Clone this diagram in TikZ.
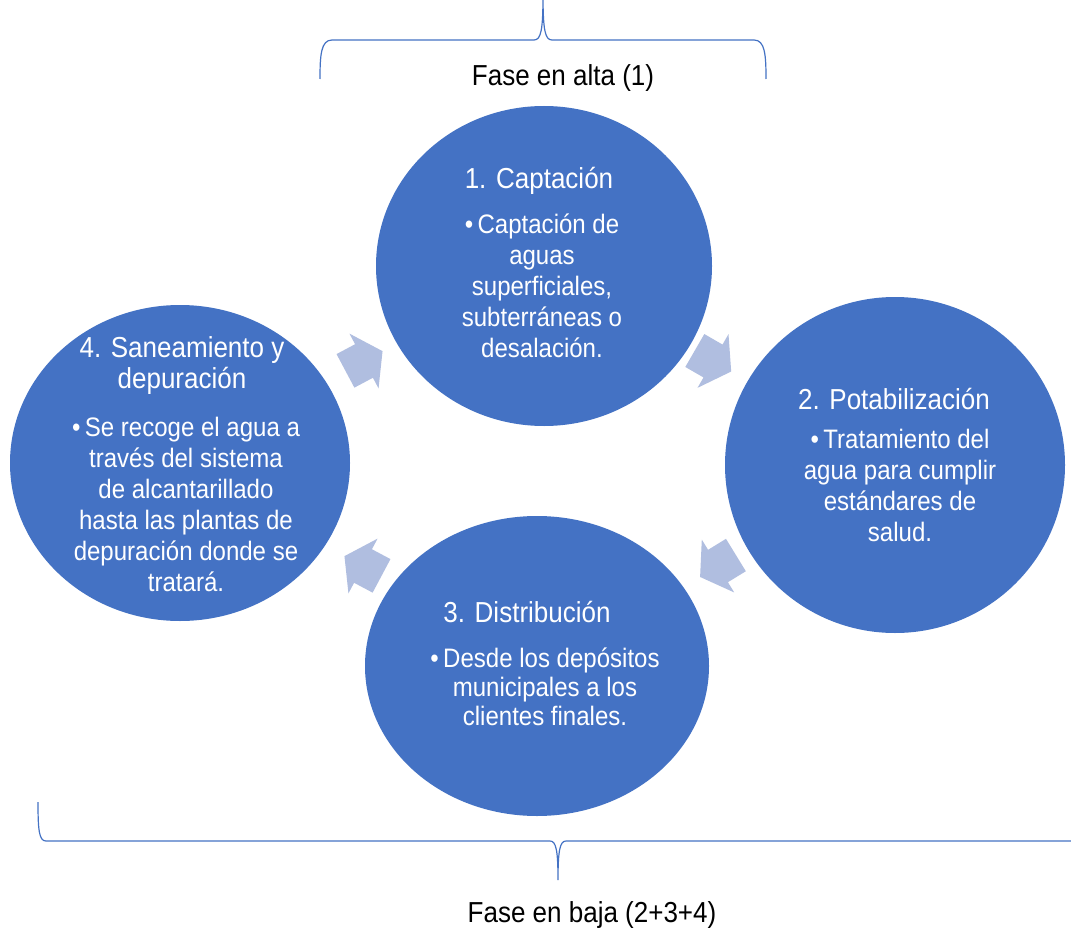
\documentclass[tikz,border=0pt]{standalone}
\usepackage{fontspec}
\setmainfont{Liberation Sans}[FakeStretch=0.9]
\usetikzlibrary{shapes.geometric}
\definecolor{cblue}{HTML}{4472C4}
\definecolor{carrow}{HTML}{B0BEE0}
\newcommand\flowarrow[3]{%
  \begin{scope}[shift={(#1,#2)}, rotate=#3]
    \fill[flow] (-21,-19) -- (0,-19) -- (0,-31) -- (21,0) -- (0,31) -- (0,19) -- (-21,19) -- cycle;
  \end{scope}}
\begin{document}
\begin{tikzpicture}[x=1pt,y=-1pt,
  stage/.style={ellipse, fill=cblue, draw=none, inner sep=0pt},
  ttl/.style={text=white, font=\fontsize{28.9}{31}\selectfont, align=center, inner sep=0pt},
  bdy/.style={text=white, font=\fontsize{26.7}{31}\selectfont, align=center, inner sep=0pt},
  lbl/.style={text=black, font=\fontsize{28.9}{31}\selectfont, inner sep=0pt},
  brace/.style={draw=cblue, line width=1.2pt},
  flow/.style={fill=carrow, draw=none}]
\clip (0,0) rectangle (1071,931);
\fill[white] (0,0) rectangle (1071,931);

% braces
\draw[brace] (320,79) .. controls (320,55) and (321,40) .. (332,40) -- (534,40)
  .. controls (541,40) and (543,30) .. (543,-5)
  .. controls (543,30) and (545,40) .. (552,40) -- (754,40)
  .. controls (765,40) and (766,55) .. (766,79);
\draw[brace] (38,802) .. controls (38,830) and (39,841) .. (46,841) -- (550,841)
  .. controls (556,841) and (558,850) .. (558,880)
  .. controls (558,850) and (560,841) .. (566,841) -- (1080,841);

\node[lbl] (alta) at (563,78) {Fase en alta (1)};
\node[lbl] (baja) at (592,915) {Fase en baja (2+3+4)};

% stages
\node[stage, minimum width=336, minimum height=320] (c1) at (544,266) {};
\node[stage, minimum width=340, minimum height=336] (c2) at (895,465) {};
\node[stage, minimum width=344, minimum height=300] (c3) at (537,666) {};
\node[stage, minimum width=340, minimum height=316] (c4) at (180,463) {};

% flow arrows
\flowarrow{364}{361}{28}
\flowarrow{713}{361}{-30}
\flowarrow{718}{566}{211.5}
\flowarrow{363}{566}{152}

% texts
\node[ttl] (c1t) at (539,181) {1. Captación};
\node[bdy] (c1b) at (542,286) {•\,Captación de\\aguas\\superficiales,\\subterráneas o\\desalación.};
\node[ttl] (c2t) at (894,399) {2. Potabilización};
\node[bdy] (c2b) at (900,485) {•\,Tratamiento del\\agua para cumplir\\estándares de\\salud.};
\node[ttl] (c3t) at (527,612) {3. Distribución};
\node[bdy, font=\fontsize{26.7}{29}\selectfont] (c3b) at (545,687) {•\,Desde los depósitos\\municipales a los\\clientes finales.};
\node[ttl] (c4t) at (182,366) {4. Saneamiento y\\depuración};
\node[bdy] (c4b) at (186,504) {•\,Se recoge el agua a\\través del sistema\\de alcantarillado\\hasta las plantas de\\depuración donde se\\tratará.};
\end{tikzpicture}
\end{document}
